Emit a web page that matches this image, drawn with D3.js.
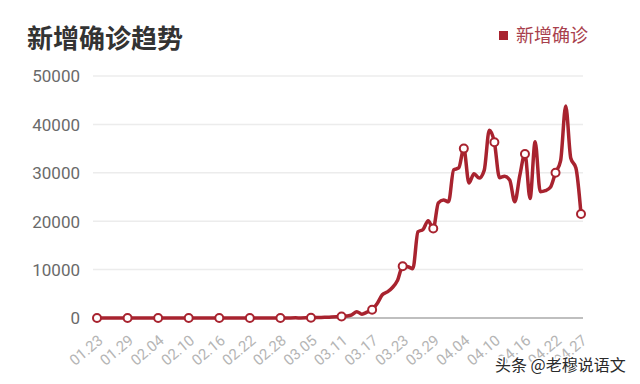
<!DOCTYPE html>
<html><head><meta charset="utf-8">
<script src="https://cdn.jsdelivr.net/npm/d3@7"></script>
<style>
html,body{margin:0;padding:0;background:#fff;}
svg{display:block;}
</style></head>
<body>
<svg id="chart" width="640" height="384"></svg>
<script>
const title = "新增确诊趋势";
const seriesName = "新增确诊";
const watermark = "头条 @老穆说语文";
const dates = [
"01.23","01.24","01.25","01.26","01.27","01.28","01.29","01.30","01.31","02.01",
"02.02","02.03","02.04","02.05","02.06","02.07","02.08","02.09","02.10","02.11",
"02.12","02.13","02.14","02.15","02.16","02.17","02.18","02.19","02.20","02.21",
"02.22","02.23","02.24","02.25","02.26","02.27","02.28","02.29","03.01","03.02",
"03.03","03.04","03.05","03.06","03.07","03.08","03.09","03.10","03.11","03.12",
"03.13","03.14","03.15","03.16","03.17","03.18","03.19","03.20","03.21","03.22",
"03.23","03.24","03.25","03.26","03.27","03.28","03.29","03.30","03.31","04.01",
"04.02","04.03","04.04","04.05","04.06","04.07","04.08","04.09","04.10","04.11",
"04.12","04.13","04.14","04.15","04.16","04.17","04.18","04.19","04.20","04.21",
"04.22","04.23","04.24","04.25","04.26","04.27"];
const newCases = [
0,1,0,3,0,0,0,1,1,1,
1,3,0,1,0,0,0,0,0,1,
0,1,1,0,0,0,0,1,0,2,
1,0,10,5,6,5,10,15,20,30,
20,30,50,80,110,150,200,250,300,400,
650,1300,800,1200,1700,3000,4800,5400,6300,7800,
10700,10600,10200,17800,18300,20100,18500,23800,24400,24000,
30600,31000,35000,27900,29800,28900,30500,38800,36300,29000,
29300,28500,24000,29500,33900,24700,36400,26100,26300,27000,
30000,32500,43800,33000,31000,21500];
const yTicks = [0,10000,20000,30000,40000,50000];
const markerIdx = [0,6,12,18,24,30,36,42,48,54,60,66,72,78,84,90,95];

const lineColor = "#a8232f";
const svg = d3.select("#chart");

const x = d3.scaleLinear().domain([0, dates.length-1]).range([97, 581]);
const y = d3.scaleLinear().domain([0, 50000]).range([318, 76]);

// title
svg.append("text").attr("x",27).attr("y",48)
  .attr("font-family","'Noto Sans CJK SC', sans-serif").attr("font-weight","bold")
  .attr("font-size",26).attr("fill","#333").text(title);

// legend
svg.append("rect").attr("x",499).attr("y",31).attr("width",9).attr("height",9).attr("fill",lineColor);
svg.append("text").attr("x",516).attr("y",42)
  .attr("font-family","'Noto Sans CJK SC', sans-serif")
  .attr("font-size",18).attr("fill","#a8404c").text(seriesName);

// grid
const grid = svg.append("g");
grid.selectAll("line").data(yTicks.filter(d=>d>0)).join("line")
  .attr("x1",93).attr("x2",583)
  .attr("y1",d=>y(d)).attr("y2",d=>y(d))
  .attr("stroke","#ececec").attr("stroke-width",1.5);

// y axis labels
const yAxis = d3.axisLeft(y).tickValues(yTicks).tickSize(0).tickPadding(0).tickFormat(d3.format("d"));
const gy = svg.append("g").attr("transform","translate(80,0)").call(yAxis);
gy.select(".domain").remove();
gy.selectAll("text").attr("font-family","Roboto, 'Noto Sans CJK SC', sans-serif")
  .attr("font-size",17).attr("fill","#6a6a6a").attr("dy","0.35em");

// x axis line
svg.append("line").attr("x1",93).attr("x2",583).attr("y1",y(0)).attr("y2",y(0))
  .attr("stroke","#aaa").attr("stroke-width",1.5);

// x labels
const xAxis = d3.axisBottom(x).tickValues(markerIdx).tickSize(0).tickFormat(i=>dates[i]);
const gx = svg.append("g").attr("transform","translate(0,318)").call(xAxis);
gx.select(".domain").remove();
gx.selectAll(".tick text")
  .attr("font-family","Roboto, 'Noto Sans CJK SC', sans-serif")
  .attr("font-size",15).attr("fill","#b5b5b5")
  .attr("text-anchor","end").attr("y",0).attr("dy","0.35em")
  .attr("transform","translate(3,20) rotate(-40)");

// line
const line = d3.line().x((d,i)=>x(i)).y(d=>y(d)).curve(d3.curveMonotoneX);
svg.append("path").datum(newCases).attr("d",line)
  .attr("fill","none").attr("stroke",lineColor).attr("stroke-width",3.5)
  .attr("stroke-linejoin","round").attr("stroke-linecap","round");

// markers
svg.append("g").selectAll("circle").data(markerIdx).join("circle")
  .attr("cx",i=>x(i)).attr("cy",i=>y(newCases[i])).attr("r",4)
  .attr("fill","#fff").attr("stroke",lineColor).attr("stroke-width",2);

// watermark
svg.append("text").attr("x",495).attr("y",371)
  .attr("font-family","'Noto Sans CJK SC', sans-serif")
  .attr("font-size",16).attr("fill","#2a2a2a")
  .attr("stroke","#fff").attr("stroke-width",3).attr("paint-order","stroke")
  .text(watermark);
</script>
</body></html>
